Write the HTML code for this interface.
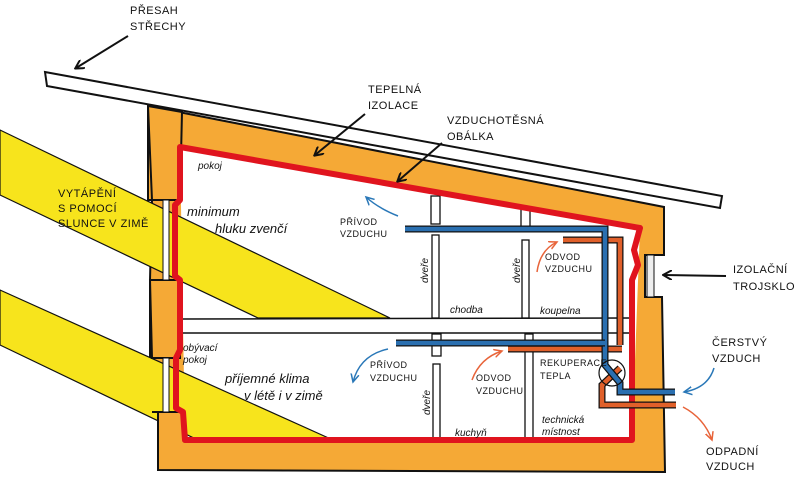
<!DOCTYPE html>
<html><head><meta charset="utf-8"><style>
html,body{margin:0;padding:0;background:#fff;width:800px;height:490px;overflow:hidden}
svg text{font-family:"Liberation Sans",sans-serif;fill:#111}
.c{font-size:11px;letter-spacing:0.5px}
.s{font-size:10px;font-style:italic}
.m{font-size:13px;font-style:italic}
</style></head><body>
<svg width="800" height="490" viewBox="0 0 800 490" xmlns="http://www.w3.org/2000/svg">
<defs>
<marker id="ak" markerWidth="10" markerHeight="10" refX="8" refY="5" orient="auto" markerUnits="userSpaceOnUse"><path d="M0,0 L9,5 L0,10" fill="none" stroke="#111" stroke-width="2"/></marker>
<marker id="ab" markerWidth="10" markerHeight="10" refX="8" refY="5" orient="auto" markerUnits="userSpaceOnUse"><path d="M0,1 L8,5 L0,9" fill="none" stroke="#2a78b8" stroke-width="1.5"/></marker>
<marker id="ao" markerWidth="10" markerHeight="10" refX="8" refY="5" orient="auto" markerUnits="userSpaceOnUse"><path d="M0,1 L8,5 L0,9" fill="none" stroke="#e8643a" stroke-width="1.5"/></marker>
</defs>
<polygon points="45,72 722,196 720,208 47,86" fill="#fff" stroke="#111" stroke-width="2"/>
<polygon points="148,106 664,207 664,255 645,255 645,297 662,297 665,472 158,470 158,412 150,412 150,280 152,200 148,200" fill="#f5a936" stroke="#111" stroke-width="2"/>
<polygon points="180,147 640,228 632,440 185,440" fill="#fff"/>
<polygon points="0,130 390,318 258,318 0,195" fill="#f7e41c" stroke="#111" stroke-width="1.2"/>
<polygon points="0,290 333,440 198,440 0,345" fill="#f7e41c" stroke="#111" stroke-width="1.2"/>
<polygon points="148,106 182,112 180,200 152,200" fill="#f5a936" stroke="#111" stroke-width="2"/>
<polygon points="150,280 180,280 180,358 152,358" fill="#f5a936" stroke="#111" stroke-width="2"/>
<rect x="158" y="411" width="27" height="58" fill="#f5a936"/>
<path d="M152,412 L180,412 M158,412 L158,470" stroke="#111" stroke-width="2" fill="none"/>
<rect x="163" y="200" width="6" height="80" fill="#fff" stroke="#111" stroke-width="1"/>
<rect x="163" y="358" width="6" height="54" fill="#fff" stroke="#111" stroke-width="1"/>
<rect x="647" y="255" width="7" height="42" fill="#eee" stroke="#111" stroke-width="1"/>
<rect x="182" y="319" width="450" height="14" fill="#fff"/>
<path d="M182,319 L632,318 M182,333 L632,333" stroke="#111" stroke-width="1.5"/>
<g stroke="#111" stroke-width="1.3" fill="#fff">
<rect x="431" y="196" width="9" height="28"/><rect x="432" y="235" width="7" height="83"/>
<rect x="521" y="208" width="9" height="20"/><rect x="522" y="240" width="7" height="78"/>
<rect x="432" y="334" width="9" height="22"/><rect x="433" y="364" width="7" height="76"/>
<rect x="525" y="334" width="8" height="106"/>
</g>
<path d="M180,147 L640,228 L634,250 L638,265 L632,280 L632,440 L185,440 L183,412 L176,408 L176,358 L180,350 L180,280 L175,276 L175,205 L180,200 Z" fill="none" stroke="#e0141e" stroke-width="6" stroke-linejoin="round"/>
<g fill="none" stroke-linejoin="miter">
<path d="M563,240 L620,240 L620,345" stroke="#111" stroke-width="7"/><path d="M563,240 L620,240 L620,345" stroke="#e0602a" stroke-width="4.5"/>
<path d="M508,349 L622,349" stroke="#111" stroke-width="7"/><path d="M508,349 L622,349" stroke="#e0602a" stroke-width="4.5"/>
<path d="M620,368 L602,385 L602,405 L676,405" stroke="#111" stroke-width="7"/><path d="M620,368 L602,385 L602,405 L676,405" stroke="#e0602a" stroke-width="4.5"/>
<path d="M405,229 L605,229 L605,365 L620,383 L620,392 L675,392" stroke="#111" stroke-width="7"/><path d="M405,229 L605,229 L605,365 L620,383 L620,392 L675,392" stroke="#2a6fb0" stroke-width="4.5"/>
<path d="M396,343 L605,343" stroke="#111" stroke-width="7"/><path d="M396,343 L605,343" stroke="#2a6fb0" stroke-width="4.5"/>
</g>
<circle cx="612" cy="373" r="13" fill="none" stroke="#111" stroke-width="1.2"/>
<g stroke="#111" stroke-width="2" fill="none" marker-end="url(#ak)">
<path d="M128,36 L76,68"/><path d="M365,114 L315,155"/><path d="M442,143 L398,181"/><path d="M726,276 L664,275"/>
</g>
<g fill="none" stroke-width="1.5">
<path d="M398,216 Q378,208 366,197" stroke="#2a78b8" marker-end="url(#ab)"/>
<path d="M388,349 Q360,355 353,382" stroke="#2a78b8" marker-end="url(#ab)"/>
<path d="M714,368 Q708,388 684,392" stroke="#2a78b8" marker-end="url(#ab)"/>
<path d="M537,272 Q540,250 557,242" stroke="#e8643a" marker-end="url(#ao)"/>
<path d="M472,380 Q480,358 502,351" stroke="#e8643a" marker-end="url(#ao)"/>
<path d="M683,407 Q704,418 712,440" stroke="#e8643a" marker-end="url(#ao)"/>
</g>
<text class="c" x="130" y="14">PŘESAH</text><text class="c" x="130" y="30">STŘECHY</text>
<text class="c" x="368" y="93">TEPELNÁ</text><text class="c" x="368" y="109">IZOLACE</text>
<text class="c" x="447" y="124">VZDUCHOTĚSNÁ</text><text class="c" x="447" y="140">OBÁLKA</text>
<text class="c" x="733" y="273">IZOLAČNÍ</text><text class="c" x="733" y="290">TROJSKLO</text>
<text class="c" x="712" y="346">ČERSTVÝ</text><text class="c" x="712" y="362">VZDUCH</text>
<text class="c" x="706" y="455">ODPADNÍ</text><text class="c" x="706" y="470">VZDUCH</text>
<text class="c" x="58" y="197">VYTÁPĚNÍ</text><text class="c" x="58" y="212">S POMOCÍ</text><text class="c" x="58" y="227">SLUNCE V ZIMĚ</text>
<text class="s" x="198" y="169">pokoj</text>
<text class="m" x="187" y="216">minimum</text><text class="m" x="215" y="233">hluku zvenčí</text>
<text class="c" x="340" y="225" style="font-size:9px">PŘÍVOD</text><text class="c" x="340" y="237" style="font-size:9px">VZDUCHU</text>
<text class="c" x="545" y="260" style="font-size:9px">ODVOD</text><text class="c" x="545" y="272" style="font-size:9px">VZDUCHU</text>
<text class="s" transform="translate(428,283) rotate(-90)">dveře</text>
<text class="s" transform="translate(520,283) rotate(-90)">dveře</text>
<text class="s" transform="translate(430,415) rotate(-90)">dveře</text>
<text class="s" x="450" y="313">chodba</text><text class="s" x="540" y="314">koupelna</text>
<text class="s" x="183" y="351">obývací</text><text class="s" x="183" y="363">pokoj</text>
<text class="m" x="225" y="383">příjemné klima</text><text class="m" x="244" y="400">v létě i v zimě</text>
<text class="c" x="370" y="368" style="font-size:9px">PŘÍVOD</text><text class="c" x="370" y="381" style="font-size:9px">VZDUCHU</text>
<text class="c" x="476" y="381" style="font-size:9px">ODVOD</text><text class="c" x="476" y="394" style="font-size:9px">VZDUCHU</text>
<text class="c" x="540" y="366" style="font-size:9px">REKUPERACE</text><text class="c" x="540" y="379" style="font-size:9px">TEPLA</text>
<text class="s" x="455" y="436">kuchyň</text>
<text class="s" x="542" y="423">technická</text><text class="s" x="542" y="435">místnost</text>
</svg>
</body></html>
